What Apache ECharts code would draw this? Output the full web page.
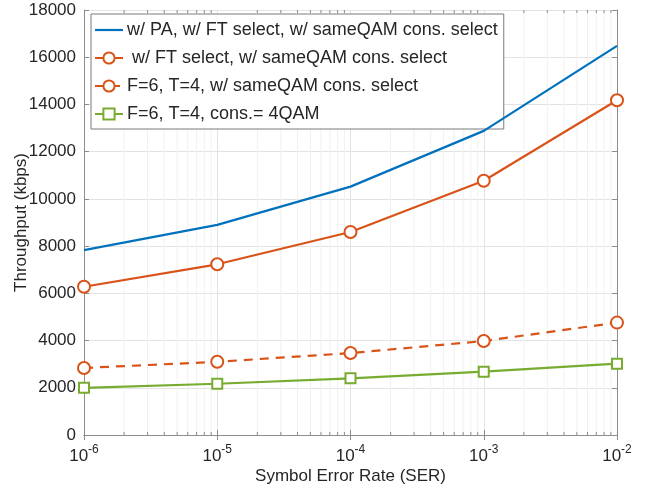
<!DOCTYPE html>
<html>
<head>
<meta charset="utf-8">
<script src="https://cdn.jsdelivr.net/npm/echarts@6/dist/echarts.min.js"></script>
<style>html,body{margin:0;padding:0;background:#fff}#c{width:649px;height:488px}</style>
</head>
<body>
<div id="c"></div>
<script>
var ser = [1e-6, 1e-5, 1e-4, 1e-3, 1e-2];
var paFtSame = [7830, 8900, 10520, 12880, 16480];
var ftSame = [6280, 7230, 8600, 10770, 14180];
var f6t4Same = [2840, 3100, 3470, 3980, 4760];
var f6t4QAM4 = [2000, 2170, 2400, 2680, 3020];
var seriesNames = [
  'w/ PA, w/ FT select, w/ sameQAM cons. select',
  ' w/ FT select, w/ sameQAM cons. select',
  'F=6, T=4, w/ sameQAM cons. select',
  'F=6, T=4, cons.= 4QAM'
];
var yTicks = [0, 2000, 4000, 6000, 8000, 10000, 12000, 14000, 16000, 18000];

var minorVals = [];
for (var d = -6; d < -2; d++) {
  for (var m = 2; m <= 9; m++) minorVals.push([m * Math.pow(10, d)]);
}
function pairs(ys) { return ser.map(function (x, i) { return [x, ys[i]]; }); }

var FONT = 'Liberation Sans, Arial, Helvetica, sans-serif';
var axisColor = '#8c8c8c';
var txt = '#262626';

var chart = echarts.init(document.getElementById('c'), null, {renderer: 'canvas'});
chart.setOption({
  animation: false,
  backgroundColor: '#fff',
  textStyle: {fontFamily: FONT},
  grid: {left: 84, right: 32, top: 10, bottom: 53, containLabel: false, outerBoundsMode: 'none'},
  legend: {
    orient: 'vertical', left: 91, top: 14,
    padding: [7, 6, 6, 3], itemGap: 10, itemWidth: 28, itemHeight: 14,
    borderColor: '#7a7a7a', borderWidth: 1, backgroundColor: '#fff',
    textStyle: {fontSize: 18, color: txt, fontFamily: FONT, padding: [0, 0, 0, -1]},
    data: [
      {name: seriesNames[0], icon: 'path://M0,0H28V2.2H0Z'},
      seriesNames[1], seriesNames[2], seriesNames[3]
    ]
  },
  xAxis: [{
    type: 'log', logBase: 10, min: 1e-6, max: 1e-2,
    name: 'Symbol Error Rate (SER)', nameLocation: 'middle', nameGap: 33, nameMoveOverlap: false,
    nameTextStyle: {fontSize: 17, color: txt, fontFamily: FONT},
    axisLine: {lineStyle: {color: axisColor, width: 1}},
    axisTick: {inside: true, length: 5, lineStyle: {color: axisColor}},
    splitLine: {show: true, lineStyle: {color: '#e3e3e3', width: 1}},
    axisLabel: {
      margin: 9, color: txt, fontSize: 17, fontFamily: FONT,
      formatter: function (v) { return '10{s|' + Math.round(Math.log10(v)) + '}'; },
      rich: {s: {fontSize: 12, color: txt, fontFamily: FONT, padding: [0, 0, 12, 0]}}
    }
  }, {
    type: 'log', logBase: 10, min: 1e-6, max: 1e-2, position: 'top',
    axisLine: {lineStyle: {color: axisColor, width: 1}},
    axisTick: {inside: true, length: 5, lineStyle: {color: axisColor}},
    axisLabel: {show: false}, splitLine: {show: false}
  }],
  yAxis: [{
    type: 'value', min: 0, max: 18000, interval: 2000,
    name: 'Throughput (kbps)', nameLocation: 'middle', nameGap: 54, nameMoveOverlap: false,
    nameTextStyle: {fontSize: 17, color: txt, fontFamily: FONT},
    axisLine: {show: true, lineStyle: {color: axisColor, width: 1}},
    axisTick: {show: true, inside: true, length: 5, lineStyle: {color: axisColor}},
    splitLine: {show: true, lineStyle: {color: '#e3e3e3', width: 1}},
    axisLabel: {margin: 8, color: txt, fontSize: 17, fontFamily: FONT,
      formatter: function (v) { return yTicks.indexOf(v) >= 0 ? String(v) : ''; }}
  }, {
    type: 'value', min: 0, max: 18000, interval: 2000, position: 'right',
    axisLine: {show: true, lineStyle: {color: axisColor, width: 1}},
    axisTick: {show: true, inside: true, length: 5, lineStyle: {color: axisColor}},
    axisLabel: {show: false}, splitLine: {show: false}
  }],
  series: [{
    type: 'custom', silent: true, z: 1, xAxisIndex: 0, yAxisIndex: 0,
    data: minorVals,
    renderItem: function (params, api) {
      var x = api.value(0);
      var p0 = api.coord([x, 0]);
      var p1 = api.coord([x, 18000]);
      return {type: 'group', children: [
        {type: 'line', shape: {x1: p0[0], y1: p0[1], x2: p1[0], y2: p1[1]}, style: {stroke: '#f1f1f1', lineWidth: 1}},
        {type: 'line', shape: {x1: p0[0], y1: p0[1], x2: p0[0], y2: p0[1] - 3}, style: {stroke: axisColor, lineWidth: 1}},
        {type: 'line', shape: {x1: p1[0], y1: p1[1], x2: p1[0], y2: p1[1] + 3}, style: {stroke: axisColor, lineWidth: 1}}
      ]};
    }
  }, {
    name: seriesNames[0], type: 'line', data: pairs(paFtSame), z: 5,
    symbol: 'none', color: '#0072BD', lineStyle: {width: 2.2, color: '#0072BD'}
  }, {
    name: seriesNames[1], type: 'line', data: pairs(ftSame), z: 5,
    symbol: 'circle', symbolSize: 12, color: '#D95319',
    itemStyle: {color: '#fff', borderColor: '#D95319', borderWidth: 2},
    lineStyle: {width: 2.2, color: '#D95319'}
  }, {
    name: seriesNames[2], type: 'line', data: pairs(f6t4Same), z: 5,
    symbol: 'circle', symbolSize: 12, color: '#D95319',
    itemStyle: {color: '#fff', borderColor: '#D95319', borderWidth: 2},
    lineStyle: {width: 2.2, type: [9, 7], color: '#D95319'}
  }, {
    name: seriesNames[3], type: 'line', data: pairs(f6t4QAM4), z: 5,
    symbol: 'rect', symbolSize: 10, color: '#77AC30',
    itemStyle: {color: '#fff', borderColor: '#77AC30', borderWidth: 2},
    lineStyle: {width: 2.2, color: '#77AC30'}
  }]
});
</script>
</body>
</html>
